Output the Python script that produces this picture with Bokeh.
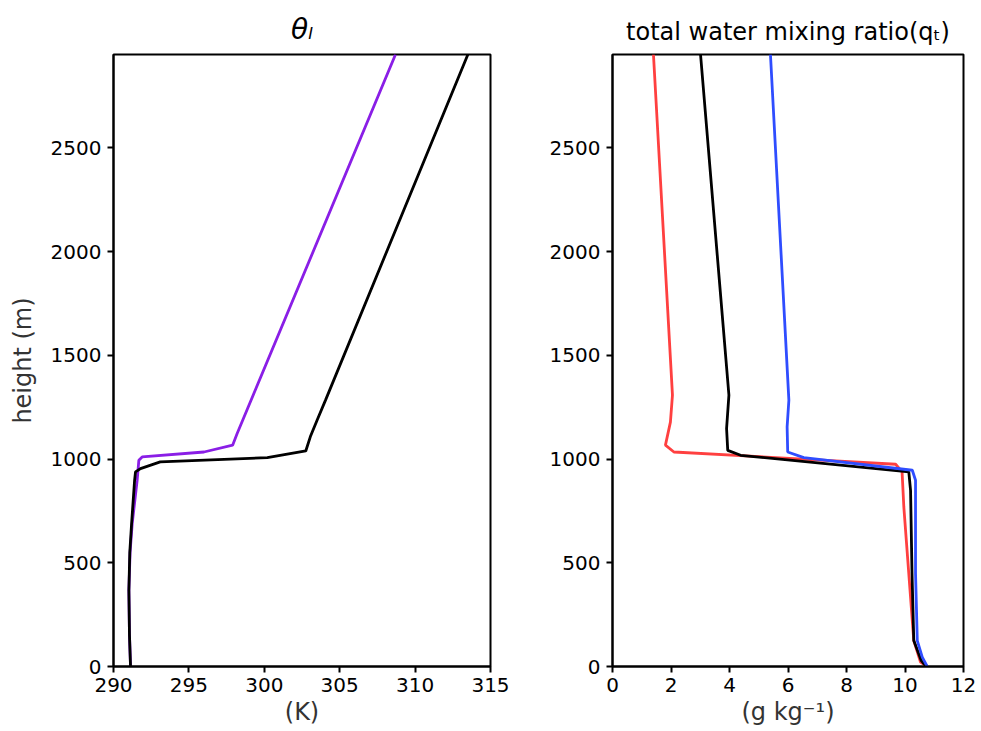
from bokeh.plotting import figure
from bokeh.layouts import row
from bokeh.models import FixedTicker, Range1d, Title
from bokeh.embed import file_html
from bokeh.resources import INLINE

# ---- data: theta_l (K) vs height (m) ----
z_purple = [0, 150, 367, 550, 689, 898, 994, 1010, 1034, 1067, 1123, 2950]
theta_purple = [291.13, 291.06, 291.02, 291.10, 291.24, 291.57, 291.68, 291.9, 296.0, 297.9, 298.2, 308.7]

z_black_l = [0, 150, 367, 550, 689, 898, 938, 954, 986, 1007, 1039, 1107, 1187, 1284, 2950]
theta_black = [291.13, 291.06, 291.02, 291.08, 291.2, 291.4, 291.46, 291.79, 293.1, 300.2, 302.75, 303.05, 303.5, 304.06, 313.5]

# ---- data: total water mixing ratio (g/kg) vs height (m) ----
z_red = [0, 21, 125, 769, 938, 975, 1034, 1067, 1178, 1308, 2950]
q_red = [10.76, 10.53, 10.30, 9.96, 9.90, 9.68, 2.10, 1.81, 1.98, 2.05, 1.40]

z_black_r = [0, 30, 125, 449, 849, 938, 1018, 1042, 1147, 1308, 2950]
q_black = [10.72, 10.55, 10.30, 10.24, 10.19, 10.13, 4.38, 3.94, 3.90, 3.98, 3.01]

z_blue = [0, 45, 125, 449, 898, 946, 1007, 1034, 1155, 1284, 2950]
q_blue = [10.76, 10.59, 10.42, 10.36, 10.36, 10.25, 6.54, 5.99, 5.97, 6.03, 5.40]

y_ticks = [0, 500, 1000, 1500, 2000, 2500]
x_ticks_l = [290, 295, 300, 305, 310, 315]
x_ticks_r = [0, 2, 4, 6, 8, 10, 12]

FONT = "DejaVu Sans"
PURPLE = "#8a1ee6"
RED = "#ff4040"
BLUE = "#2f4dff"
LW = 2.8


def style(p, xticks):
    p.grid.visible = False
    p.outline_line_color = "black"
    p.outline_line_width = 2
    for ax in (p.xaxis[0], p.yaxis[0]):
        ax.axis_line_width = 2
        ax.axis_line_color = "black"
        ax.major_tick_line_width = 2
        ax.major_tick_out = 6
        ax.major_tick_in = 0
        ax.minor_tick_line_color = None
        ax.major_label_text_font = FONT
        ax.major_label_text_font_size = "20px"
        ax.major_label_text_color = "black"
        ax.axis_label_text_font = FONT
        ax.axis_label_text_font_size = "24px"
        ax.axis_label_text_font_style = "normal"
        ax.axis_label_text_color = "#333333"
    p.xaxis[0].ticker = FixedTicker(ticks=xticks)
    p.yaxis[0].ticker = FixedTicker(ticks=y_ticks)
    p.xaxis[0].major_label_standoff = 5
    p.yaxis[0].major_label_standoff = 6
    p.xaxis[0].axis_label_standoff = 3
    p.yaxis[0].axis_label_standoff = 11


# Left panel
p1 = figure(width=510, height=731, output_backend="svg", toolbar_location=None,
            x_range=Range1d(290, 315), y_range=Range1d(0, 2950),
            min_border_left=113, min_border_right=20, min_border_top=54, min_border_bottom=65,
            title=Title(text="θₗ", align="center", text_font=FONT, text_font_size="28px",
                        text_font_style="italic", text_color="black", standoff=17))
style(p1, x_ticks_l)
p1.xaxis.axis_label = "(K)"
p1.yaxis.axis_label = "height (m)"
p1.line(theta_purple, z_purple, line_color=PURPLE, line_width=LW)
p1.line(theta_black, z_black_l, line_color="black", line_width=LW)

# Right panel
p2 = figure(width=471, height=731, output_backend="svg", toolbar_location=None,
            x_range=Range1d(0, 12), y_range=Range1d(0, 2950),
            min_border_left=102, min_border_right=18, min_border_top=54, min_border_bottom=65,
            title=Title(text="total water mixing ratio(qₜ)", align="center", text_font=FONT,
                        text_font_size="24px", text_font_style="normal", text_color="black",
                        standoff=18))
style(p2, x_ticks_r)
p2.xaxis.axis_label = "(g kg⁻¹)"
p2.line(q_red, z_red, line_color=RED, line_width=LW)
p2.line(q_black, z_black_r, line_color="black", line_width=LW)
p2.line(q_blue, z_blue, line_color=BLUE, line_width=LW)

layout = row(p1, p2)
open("out.html", "w").write(file_html(layout, INLINE))
